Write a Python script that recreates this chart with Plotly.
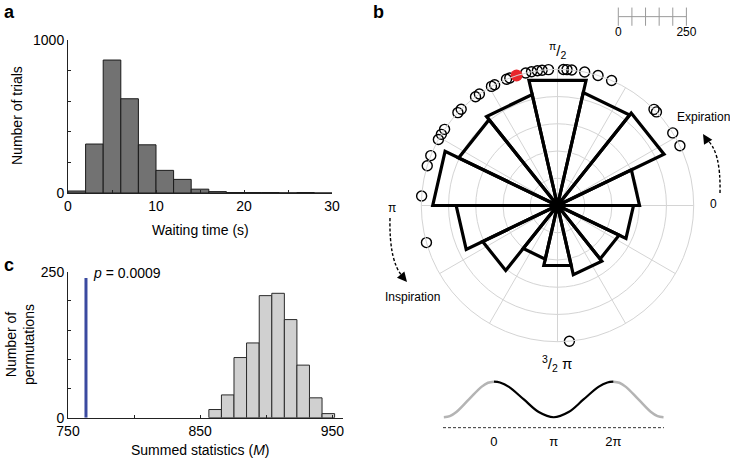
import plotly.graph_objects as go

W, H = 730, 459
def px(x):
    return x / W
def py(y):
    return 1 - y / H

# ---------------- data ----------------
# panel a: waiting-time histogram (bin width 2 s)
wait_bin_centers = [1, 3, 5, 7, 9, 11, 13, 15, 17, 19, 21, 23, 25, 27, 29]
wait_counts = [13, 320, 869, 616, 315, 148, 89, 25, 9, 3, 3, 3, 1, 3, 0]
wait_bin_width = 2
wait_x_ticks = [0, 5, 10, 15, 20, 25, 30]
wait_x_ticktext = ["0", "", "10", "", "20", "", "30"]
wait_y_ticks = [0, 200, 400, 600, 800, 1000]
wait_y_ticktext = ["0", "", "", "", "", "1000"]

# panel c: permutation histogram of summed statistics M
perm_bin_centers = [861.3, 870.8, 880.3, 889.8, 899.4, 908.9, 918.4, 927.9, 937.4, 946.9]
perm_counts = [14, 39, 103, 128, 209, 213, 168, 90, 34, 7]
perm_bin_width = 9.5
observed_M = 763.6
observed_bar_height = 239
perm_x_ticks = [750, 800, 850, 900, 950]
perm_x_ticktext = ["750", "", "850", "", "950"]
perm_y_ticks = [0, 50, 100, 150, 200, 250]
perm_y_ticktext = ["0", "", "", "", "", "250"]

# panel b: rose histogram (14 bins) of respiratory phase
rose_edges_deg = [0, 25.71, 51.43, 77.14, 102.86, 128.57, 154.29, 180,
                  205.71, 231.43, 257.14, 282.86, 308.57, 334.29, 360]
rose_counts = [301, 434, 425, 471, 418, 403, 458, 372, 305, 202, 226, 261, 251, 279]
rose_grid_r = [100, 200, 300, 400]
rose_max_r = 500
subject_phase_deg = [176, 163, 158.5, 151, 148.5, 146, 137, 135, 127, 125, 119, 117.5,
                     112, 110.5, 103.5, 101, 98.5, 96.5, 93.8, 87.5, 86, 84, 78.5,
                     72.7, 66.6, 44.9, 43.4, 32.2, 26.0, 195.8, 275]
highlight_phase_deg = [107.5]
scale_ticks = [0, 50, 100, 150, 200, 250]

# respiration schematic (x in units of pi)
wave_left_x = [-0.84, -0.74, -0.63, -0.42, -0.21, -0.1, 0]
wave_left_y = [0, 0.03, 0.146, 0.5, 0.854, 0.97, 1]
wave_mid_x = [0, 0.1, 0.25, 0.5, 0.75, 1, 1.25, 1.5, 1.75, 1.9, 2]
wave_mid_y = [1, 0.976, 0.854, 0.5, 0.146, 0, 0.146, 0.5, 0.854, 0.976, 1]
wave_right_x = [2, 2.1, 2.21, 2.42, 2.63, 2.74, 2.84]
wave_right_y = [1, 0.97, 0.854, 0.5, 0.146, 0.03, 0]
wave_base_x = [-0.854, 2.848]
wave_base_y = [-0.292, -0.292]
wave_ticks = [0, 1, 2]
wave_ticktext = ["0", "π", "2π"]

FONT = "Liberation Sans, Arial, sans-serif"
GRID = "#d4d4d4"

fig = go.Figure()

# panel a
fig.add_trace(go.Bar(x=wait_bin_centers, y=wait_counts, width=wait_bin_width,
                     marker=dict(color="#727272", line=dict(color="#1a1a1a", width=1)),
                     xaxis="x", yaxis="y"))

# panel c
fig.add_trace(go.Bar(x=perm_bin_centers, y=perm_counts, width=perm_bin_width,
                     marker=dict(color="#d0d0d0", line=dict(color="#2a2a2a", width=1)),
                     xaxis="x2", yaxis="y2"))
fig.add_trace(go.Scatter(x=[observed_M, observed_M], y=[0, observed_bar_height], mode="lines",
                         line=dict(color="#3b4aa0", width=3), xaxis="x2", yaxis="y2"))

# panel b: rose wedges
r_list, t_list = [], []
for i, c in enumerate(rose_counts):
    a0, a1 = rose_edges_deg[i], rose_edges_deg[i + 1]
    r_list += [0, c, c, 0, None]
    t_list += [a0, a0, a1, a1, None]
fig.add_trace(go.Scatterpolar(r=r_list, theta=t_list, mode="lines",
                              line=dict(color="black", width=3.2), cliponaxis=False))
fig.add_trace(go.Scatterpolar(r=[rose_max_r] * len(subject_phase_deg), theta=subject_phase_deg,
                              mode="markers", cliponaxis=False,
                              marker=dict(symbol="circle-open", size=10,
                                          line=dict(color="black", width=1.4), color="black")))
fig.add_trace(go.Scatterpolar(r=[rose_max_r] * len(highlight_phase_deg), theta=highlight_phase_deg,
                              mode="markers", cliponaxis=False,
                              marker=dict(symbol="circle", size=12, color="#e8262b")))

# scale bar
fig.add_trace(go.Scatter(x=scale_ticks, y=[0] * len(scale_ticks), mode="lines+markers",
                         line=dict(color="#9a9a9a", width=1),
                         marker=dict(symbol="line-ns-open", size=13,
                                     line=dict(color="#9a9a9a", width=1)),
                         xaxis="x3", yaxis="y3", cliponaxis=False))

# respiration schematic
fig.add_trace(go.Scatter(x=wave_left_x, y=wave_left_y, mode="lines", line=dict(color="#b4b4b4", width=2.5, shape="spline"),
                         xaxis="x4", yaxis="y4", cliponaxis=False))
fig.add_trace(go.Scatter(x=wave_right_x, y=wave_right_y, mode="lines", line=dict(color="#b4b4b4", width=2.5, shape="spline"),
                         xaxis="x4", yaxis="y4", cliponaxis=False))
fig.add_trace(go.Scatter(x=wave_mid_x, y=wave_mid_y, mode="lines", line=dict(color="black", width=2.2, shape="spline"),
                         xaxis="x4", yaxis="y4", cliponaxis=False))
fig.add_trace(go.Scatter(x=wave_base_x, y=wave_base_y, mode="lines", line=dict(color="#333", width=1, dash="3px,2px"),
                         xaxis="x4", yaxis="y4", cliponaxis=False))

ax_common = dict(showgrid=False, zeroline=False, showline=True, linecolor="#222", linewidth=1,
                 ticks="inside", ticklen=3, tickcolor="#222", tickfont=dict(size=14, color="black"))

fig.update_layout(
    width=W, height=H, margin=dict(l=0, r=0, t=0, b=0),
    template="none", paper_bgcolor="white", plot_bgcolor="white",
    showlegend=False, font=dict(family=FONT, size=14, color="black"),
    xaxis=dict(domain=[px(68), px(332)], range=[0, 30], anchor="y",
               tickvals=wait_x_ticks, ticktext=wait_x_ticktext, **ax_common),
    yaxis=dict(domain=[py(193), py(40)], range=[0, 1000], anchor="x",
               tickvals=wait_y_ticks, ticktext=wait_y_ticktext, **ax_common),
    xaxis2=dict(domain=[px(68), px(343)], range=[750, 958], anchor="y2",
                tickvals=perm_x_ticks, ticktext=perm_x_ticktext, **ax_common),
    yaxis2=dict(domain=[py(417.7), py(271.7)], range=[0, 250], anchor="x2",
                tickvals=perm_y_ticks, ticktext=perm_y_ticktext, **ax_common),
    xaxis3=dict(domain=[px(618.3), px(686.4)], range=[0, 250], anchor="y3",
                showgrid=False, zeroline=False, showline=False, ticks="",
                tickvals=[0, 250], ticktext=["0", "250"], tickfont=dict(size=12, color="black")),
    yaxis3=dict(domain=[py(23.3), py(10)], range=[-1, 1], anchor="x3", visible=False),
    xaxis4=dict(domain=[px(443), px(664)], range=[-0.854, 2.848], anchor="y4",
                showgrid=False, zeroline=False, showline=False, ticks="",
                tickvals=wave_ticks, ticktext=wave_ticktext, tickfont=dict(size=13, color="black")),
    yaxis4=dict(domain=[py(431.5), py(378.1)], range=[-0.4, 1.1], anchor="x4", visible=False),
    polar=dict(
        domain=dict(x=[px(421.3), px(693.7)], y=[py(341.7), py(69.3)]),
        bgcolor="white",
        radialaxis=dict(range=[0, rose_max_r], tickvals=rose_grid_r, showticklabels=False,
                        ticks="", showline=False, gridcolor=GRID, gridwidth=1),
        angularaxis=dict(rotation=0, direction="counterclockwise", tickmode="linear",
                         tick0=0, dtick=30, showticklabels=False, ticks="",
                         showline=True, linecolor=GRID, linewidth=1,
                         gridcolor=GRID, gridwidth=1),
    ),
)

ann = []
def text(x, y, s, size=14, angle=0, xanchor="center", yanchor="middle"):
    ann.append(dict(x=px(x), y=py(y), xref="paper", yref="paper", text=s, showarrow=False,
                    font=dict(size=size, family=FONT, color="black"), textangle=angle,
                    xanchor=xanchor, yanchor=yanchor))

text(9, 12, "<b>a</b>", 18)
text(378, 12, "<b>b</b>", 18)
text(9, 265, "<b>c</b>", 18)
text(17, 116, "Number of trials", 14, -90)
text(200, 230, "Waiting time (s)", 14)
text(20, 345, "Number of<br>permutations", 14, -90)
text(200, 450, "Summed statistics (<i>M</i>)", 14)
text(91, 273, "<i>p</i> = 0.0009", 14, xanchor="left")
text(557, 50, "<sup>π</sup>/<sub>2</sub>", 15)
text(713, 204, "0", 12)
text(392, 208, "π", 12)
text(557, 363, "<sup>3</sup>/<sub>2</sub> π", 15)
text(703, 117, "Expiration", 12)
text(412, 297, "Inspiration", 12)

# arrowheads
ann.append(dict(x=px(703), y=py(134), xref="paper", yref="paper", ax=5, ay=8, text="",
                showarrow=True, arrowhead=2, arrowsize=1.3, arrowwidth=1.5, arrowcolor="black"))
ann.append(dict(x=px(407), y=py(282), xref="paper", yref="paper", ax=-6, ay=-7, text="",
                showarrow=True, arrowhead=2, arrowsize=1.3, arrowwidth=1.5, arrowcolor="black"))
fig.update_layout(annotations=ann)

shapes = [
    dict(type="path", xref="paper", yref="paper",
         path=f"M {px(720)},{py(193)} Q {px(721)},{py(150)} {px(706)},{py(139)}",
         line=dict(color="black", width=1.4, dash="3px,2px")),
    dict(type="path", xref="paper", yref="paper",
         path=f"M {px(390)},{py(218)} Q {px(389)},{py(262)} {px(403)},{py(277)}",
         line=dict(color="black", width=1.4, dash="3px,2px")),
]
fig.update_layout(shapes=shapes)

fig.write_html("out.html", config={"displayModeBar": False},
               post_script="document.body.style.margin='0';document.body.style.overflow='hidden';")
